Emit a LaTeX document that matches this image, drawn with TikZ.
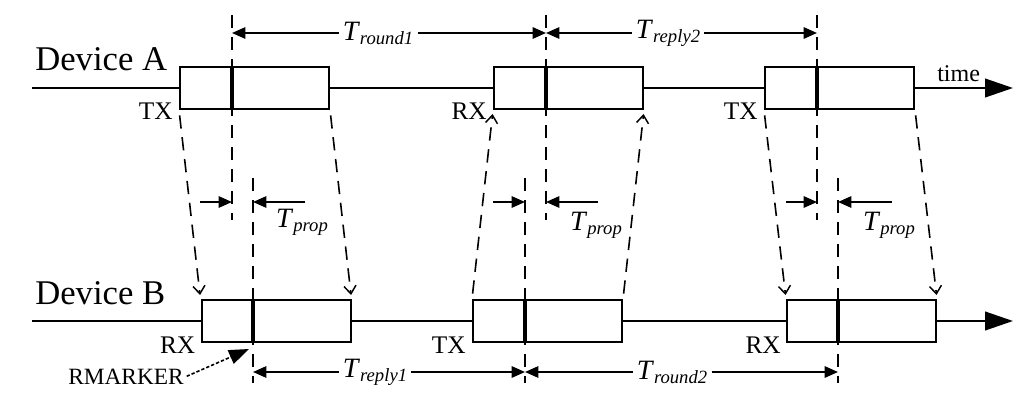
\documentclass[tikz,border=0pt]{standalone}
\usepackage{fontspec}
\setmainfont{Liberation Serif}
\usetikzlibrary{arrows,arrows.meta,calc}

\newcommand{\Tsub}[1]{\textit{T}\raisebox{-3pt}{\fontsize{14}{14}\selectfont\itshape #1}}

\tikzset{
  pktbox/.style={draw, line width=1.5pt, fill=white, minimum width=111.75pt, minimum height=31.5pt, inner sep=0pt},
  rmark/.style={line width=3.5pt},
  guide/.style={line width=1.2pt, dash pattern=on 10pt off 6.5pt},
  msg/.style={guide, shorten <=4pt, shorten >=3pt, -{Straight Barb[length=6pt,width=9pt,line width=1.1pt]}},
  dimline/.style={line width=1.4pt, -{Triangle[length=10pt,width=8.5pt]}},
  timeline/.style={line width=1.5pt, -{Triangle[length=21pt,width=14pt]}},
  dev/.style={font=\fontsize{26}{26}\selectfont, inner sep=0pt, anchor=base west},
  tag/.style={font=\fontsize{19}{19}\selectfont, inner sep=0pt, anchor=base east},
  tlab/.style={font=\fontsize{21}{21}\selectfont, inner sep=3pt},
}

\begin{document}
\begin{tikzpicture}[x=0.75pt,y=-0.75pt]
  \useasboundingbox (0,0) rectangle (1032,410);
  % time lines
  \coordinate (a0) at (32,88);
  \coordinate (a1) at (1013,88);
  \coordinate (b0) at (32,321);
  \coordinate (b1) at (1013,321);
  \draw[timeline] (a0) -- (a1);
  \draw[timeline] (b0) -- (b1);
  \node[dev] (devA) at (35,70) {Device A};
  \node[dev] (devB) at (35,304) {Device B};
  \node[anchor=base west, inner sep=0pt, font=\fontsize{18}{18}\selectfont] (time) at (937,82) {time};

  % marker positions
  \coordinate (mA1) at (232,88);
  \coordinate (mA2) at (546,88);
  \coordinate (mA3) at (817,88);
  \coordinate (mB1) at (253,321);
  \coordinate (mB2) at (525,321);
  \coordinate (mB3) at (838,321);

  % dashed guides through the markers
  \draw[guide] (mA1 |- 0,15) -- (mA1 |- 0,220);
  \draw[guide] (mA2 |- 0,15) -- (mA2 |- 0,220);
  \draw[guide] (mA3 |- 0,15) -- (mA3 |- 0,220);
  \draw[guide] (mB1 |- 0,178) -- (mB1 |- 0,383);
  \draw[guide] (mB2 |- 0,178) -- (mB2 |- 0,383);
  \draw[guide] (mB3 |- 0,178) -- (mB3 |- 0,383);

  % frames
  \node[pktbox] (txA1) at (254.5,88) {};
  \node[pktbox] (rxA2) at (568.5,88) {};
  \node[pktbox] (txA3) at (839.5,88) {};
  \node[pktbox] (rxB1) at (276,321) {};
  \node[pktbox] (txB2) at (547.5,321) {};
  \node[pktbox] (rxB3) at (861.5,321) {};
  \draw[rmark] (mA1 |- txA1.north) -- (mA1 |- txA1.south);
  \draw[rmark] (mA2 |- rxA2.north) -- (mA2 |- rxA2.south);
  \draw[rmark] (mA3 |- txA3.north) -- (mA3 |- txA3.south);
  \draw[rmark] (mB1 |- rxB1.north) -- (mB1 |- rxB1.south);
  \draw[rmark] (mB2 |- txB2.north) -- (mB2 |- txB2.south);
  \draw[rmark] (mB3 |- rxB3.north) -- (mB3 |- rxB3.south);

  \node[tag] (tagA1) at ([shift={(-6,9)}]txA1.south west) {TX};
  \node[tag] (tagA2) at ([shift={(-6,9)}]rxA2.south west) {RX};
  \node[tag] (tagA3) at ([shift={(-6,9)}]txA3.south west) {TX};
  \node[tag] (tagB1) at ([shift={(-5,10)}]rxB1.south west) {RX};
  \node[tag] (tagB2) at ([shift={(-6,10)}]txB2.south west) {TX};
  \node[tag] (tagB3) at ([shift={(-5,10)}]rxB3.south west) {RX};

  % messages
  \draw[msg] (txA1.south west) -- (rxB1.north west);
  \draw[msg] (txA1.south east) -- (rxB1.north east);
  \draw[msg] (txB2.north west) -- (rxA2.south west);
  \draw[msg] (txB2.north east) -- (rxA2.south east);
  \draw[msg] (txA3.south west) -- (rxB3.north west);
  \draw[msg] (txA3.south east) -- (rxB3.north east);

  % intervals
  \node[tlab] (round1) at (378,33) {\Tsub{round1}};
  \draw[dimline] (round1.west) -- (mA1 |- round1.west);
  \draw[dimline] (round1.east) -- (mA2 |- round1.east);
  \node[tlab] (reply2) at (668,33) {\Tsub{reply2}};
  \draw[dimline] (reply2.west) -- (mA2 |- reply2.west);
  \draw[dimline] (reply2.east) -- (mA3 |- reply2.east);
  \node[tlab] (reply1) at (375,372) {\Tsub{reply1}};
  \draw[dimline] (reply1.west) -- (mB1 |- reply1.west);
  \draw[dimline] (reply1.east) -- (mB2 |- reply1.east);
  \node[tlab] (round2) at (672,372) {\Tsub{round2}};
  \draw[dimline] (round2.west) -- (mB2 |- round2.west);
  \draw[dimline] (round2.east) -- (mB3 |- round2.east);

  % propagation times
  \draw[dimline] ($(mA1 |- 0,202)+(-32,0)$) -- (mA1 |- 0,202);
  \draw[dimline] ($(mB1 |- 0,202)+(52,0)$) -- (mB1 |- 0,202);
  \node[tlab] (prop1) at (302,222) {\Tsub{prop}};
  \draw[dimline] ($(mB2 |- 0,202)+(-32,0)$) -- (mB2 |- 0,202);
  \draw[dimline] ($(mA2 |- 0,202)+(52,0)$) -- (mA2 |- 0,202);
  \node[tlab] (prop2) at (596,225) {\Tsub{prop}};
  \draw[dimline] ($(mA3 |- 0,202)+(-31,0)$) -- (mA3 |- 0,202);
  \draw[dimline] ($(mB3 |- 0,202)+(54,0)$) -- (mB3 |- 0,202);
  \node[tlab] (prop3) at (889,225) {\Tsub{prop}};

  % rmarker
  \node[anchor=base east, inner sep=0pt, font=\fontsize{17.5}{17.5}\selectfont] (rmk) at (184,384) {RMARKER};
  \coordinate (rtip) at (249,349);
  \draw[line width=1.2pt, dash pattern=on 2.5pt off 1.5pt, -{Triangle[length=15pt,width=11pt]}] ([xshift=2pt]rmk.east) -- (rtip);
\end{tikzpicture}
\end{document}
